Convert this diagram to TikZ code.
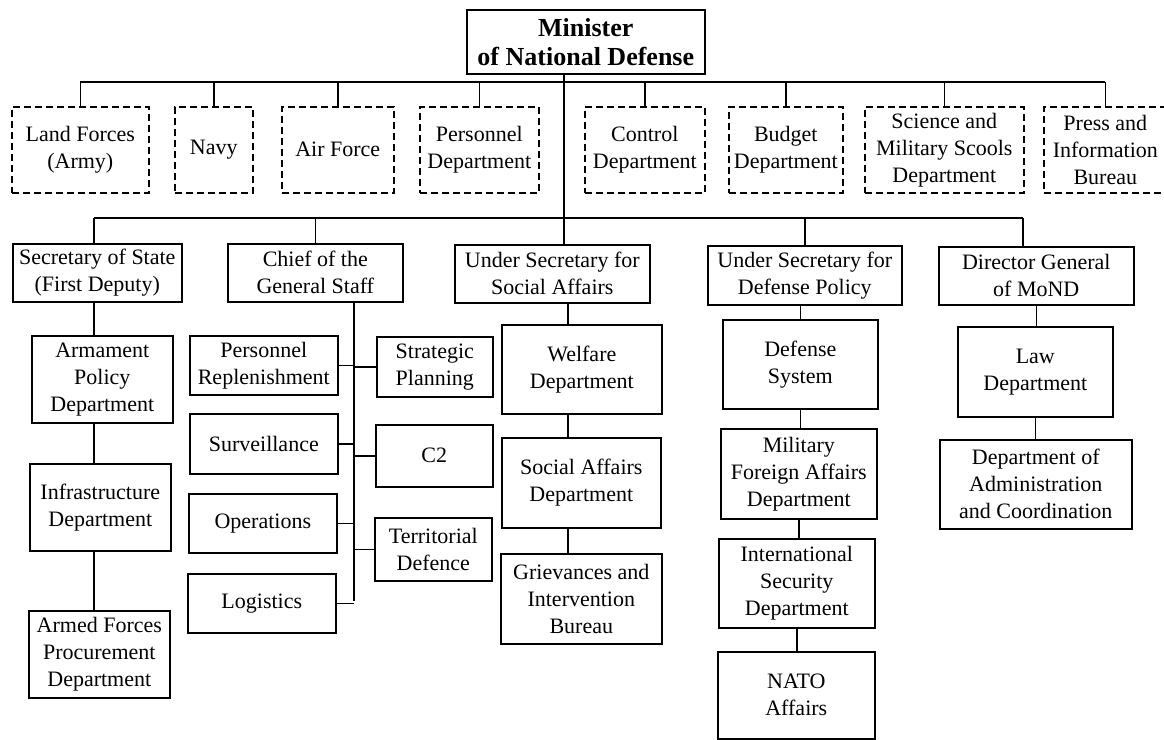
\documentclass[tikz,border=0pt]{standalone}
\usepackage{fontspec}
\setmainfont{Liberation Serif}
\newcommand\rf{\fontsize{22}{27}\selectfont}
\newcommand\mf{\fontsize{26}{29}\selectfont\bfseries}
\tikzset{
  box/.style={draw, line width=1.6pt, inner sep=0pt, align=center, font=\rf, anchor=north west},
  dbox/.style={box, dash pattern=on 7pt off 4pt},
  link/.style={line width=1.6pt},
}
\newcommand\bx[7][box]{\node[#1, minimum width=#4-#3, minimum height=#6-#5] (#2) at (#3,#5) {#7};}
\begin{document}
\begin{tikzpicture}[x=1pt,y=-1pt]
\useasboundingbox[fill=white] (0,0) rectangle (1164,739);
% top
\node[box, font=\mf, minimum width=238, minimum height=64] (min) at (466,9) {Minister\\of National Defense};
% dashed row
\bx[dbox]{land}{11}{148}{106}{192}{Land Forces\\(Army)}
\bx[dbox]{navy}{174}{252}{106}{192}{Navy}
\bx[dbox]{air}{281}{393}{106}{192}{Air Force}
\bx[dbox]{pers}{419}{538}{106}{192}{Personnel\\Department}
\bx[dbox]{ctrl}{584}{704}{106}{192}{Control\\Department}
\bx[dbox]{budg}{728}{842}{106}{192}{Budget\\Department}
\bx[dbox]{sci}{864}{1023}{106}{192}{Science and\\Military Scools\\Department}
\bx[dbox]{press}{1043}{1166}{106}{192}{Press and\\Information\\Bureau}
% second tier
\bx{sec}{12}{181}{243}{301}{Secretary of State\\(First Deputy)}
\bx{chief}{227}{402}{243}{301}{Chief of the\\General Staff}
\bx{usoc}{454}{649}{244}{302}{Under Secretary for\\Social Affairs}
\bx{usdef}{707}{901}{245}{304}{Under Secretary for\\Defense Policy}
\bx{dir}{938}{1133}{246}{304}{Director General\\of MoND}
% secretary column
\bx{arm}{31}{172}{335}{422}{Armament\\Policy\\Department}
\bx{infra}{29}{170}{463}{550}{Infrastructure\\Department}
\bx{armed}{28}{169}{610}{697}{Armed Forces\\Procurement\\Department}
% chief column
\bx{pr}{189}{337}{335}{394}{Personnel\\Replenishment}
\bx{surv}{189}{337}{413}{473}{Surveillance}
\bx{ops}{188}{336}{493}{552}{Operations}
\bx{log}{187}{335}{573}{632}{Logistics}
\bx{strat}{376}{492}{336}{396}{Strategic\\Planning}
\bx{ctwo}{375}{492}{424}{486}{C2}
\bx{terr}{374}{491}{517}{580}{Territorial\\Defence}
% social column
\bx{welf}{501}{661}{324}{413}{Welfare\\Department}
\bx{sad}{501}{660}{437}{527}{Social Affairs\\Department}
\bx{griev}{500}{661}{553}{643}{Grievances and\\Intervention\\Bureau}
% defense column
\bx{ds}{722}{877}{319}{408}{Defense\\System}
\bx{mil}{720}{876}{428}{518}{Military\\Foreign Affairs\\Department}
\bx{isd}{718}{874}{538}{627}{International\\Security\\Department}
\bx{nato}{717}{874}{651}{738}{NATO\\Affairs}
% director column
\bx{law}{957}{1112}{326}{416}{Law\\Department}
\bx{admin}{939}{1131}{439}{528}{Department of\\Administration\\and Coordination}
% coordinates
\coordinate (bus1) at (0,82);
\coordinate (mcol) at (564,218);
\coordinate (dcol) at (1023,218);
\coordinate (acol) at (94,218);
\coordinate (scol) at (568,0);
\coordinate (spend) at (354,601);
% bus 1
\draw[link] (land.north |- bus1) -- (press.north |- bus1);
\foreach \n in {land,navy,air,pers,ctrl,budg,sci,press}
  \draw[link] (\n.north) -- (\n.north |- bus1);
\draw[link] (min.south -| mcol) -- (usoc.north -| mcol);
% bus 2
\draw[link] (acol) -- (dcol);
\draw[link] (sec.north -| acol) -- (acol);
\draw[link] (chief.north) -- (chief.north |- dcol);
\draw[link] (usdef.north) -- (usdef.north |- dcol);
\draw[link] (dir.north -| dcol) -- (dcol);
% secretary column
\draw[link] (sec.south -| acol) -- (arm.north -| acol);
\draw[link] (arm.south -| acol) -- (infra.north -| acol);
\draw[link] (infra.south -| acol) -- (armed.north -| acol);
% chief spine
\draw[link] (chief.south -| spend) -- (spend);
\foreach \n in {pr,surv,ops,log}
  \draw[link] (\n.east) -- (\n.east -| spend);
\foreach \n in {strat,ctwo,terr}
  \draw[link] (\n.west) -- (\n.west -| spend);
% social column
\draw[link] (usoc.south -| scol) -- (welf.north -| scol);
\draw[link] (welf.south -| scol) -- (sad.north -| scol);
\draw[link] (sad.south -| scol) -- (griev.north -| scol);
% defense column
\draw[link] (ds.north) -- (ds.north |- usdef.south);
\draw[link] (ds.south) -- (ds.south |- mil.north);
\draw[link] (mil.south) -- (mil.south |- isd.north);
\draw[link] (isd.south) -- (isd.south |- nato.north);
% director column
\draw[link] (dir.south) -- (dir.south |- law.north);
\draw[link] (law.south) -- (law.south |- admin.north);
\end{tikzpicture}
\end{document}
